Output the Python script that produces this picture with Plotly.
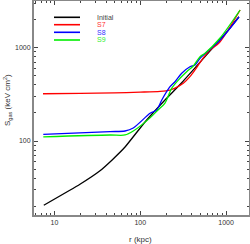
import plotly.graph_objects as go

# Data
r_init = [7.5, 19.8, 33.9, 47.6, 66.4, 113.5, 194, 300, 450, 700, 1000, 1413]
s_init = [20.5, 34.4, 48.0, 63.5, 86.2, 160, 275, 416, 631, 998, 1447, 2148]

r_s7 = [7.35, 20, 50, 100, 170, 222, 254, 317, 379, 434, 475, 520, 621, 851, 1456]
s_s7 = [321, 324, 328, 334, 341, 352, 368, 415, 489, 577, 653, 738, 906, 1159, 2536]

r_s8 = [7.4, 44.4, 66.4, 82.8, 130, 155, 178, 222, 254, 304, 379, 434, 497, 851, 1413]
s_s8 = [118, 126, 128, 138, 198, 215, 275, 382, 432, 532, 625, 653, 769, 1208, 2133]

r_s9 = [7.4, 44.4, 66.4, 82.8, 130, 161, 194, 232, 290, 347, 415, 497, 568, 851, 1456]
s_s9 = [111, 116, 116, 128, 177, 215, 255, 367, 470, 553, 637, 801, 871, 1270, 2536]

names = ["Initial", "S7", "S8", "S9"]
colors = ["#000000", "#ff0000", "#0000ff", "#00ee00"]
text_colors = ["#444444", "#ff3030", "#3030ff", "#30ee30"]

x_major = [10, 100, 1000]
y_major = [100, 1000]

series = [(r_init, s_init), (r_s7, s_s7), (r_s8, s_s8), (r_s9, s_s9)]
smooth = [0.4, 0.8, 0.8, 0.8]

fig = go.Figure()
for (rx, sy), nm, c, sm in zip(series, names, colors, smooth):
    fig.add_trace(go.Scatter(x=rx, y=sy, mode="lines", name=nm,
                             line=dict(color=c, width=1.3, shape="spline", smoothing=sm),
                             showlegend=False))

W, H = 250, 244
ml, mr, mt, mb = 34, 1, 1, 29
pw, ph = W - ml - mr, H - mt - mb

def px_to_paper_x(px):
    return (px - ml) / pw

def px_to_paper_y(py):
    return 1 - (py - mt) / ph

# manual legend (paper coords)
leg_y = [17.3, 24.7, 32.3, 40.0]
for nm, c, tc, yp in zip(names, colors, text_colors, leg_y):
    yy = px_to_paper_y(yp)
    fig.add_shape(type="line", xref="paper", yref="paper",
                  x0=px_to_paper_x(54), x1=px_to_paper_x(80), y0=yy, y1=yy,
                  line=dict(color=c, width=1.6))
    fig.add_annotation(xref="paper", yref="paper", x=px_to_paper_x(95), y=yy,
                       text=nm, showarrow=False, xanchor="left", yanchor="middle",
                       font=dict(size=7, color=tc, family="Liberation Sans"))

# axis titles
fig.add_annotation(xref="paper", yref="paper", x=px_to_paper_x(140), y=px_to_paper_y(239),
                   text="r (kpc)", showarrow=False, xanchor="center", yanchor="middle",
                   font=dict(size=8, color="#333333", family="Liberation Sans"))
fig.add_annotation(xref="paper", yref="paper", x=px_to_paper_x(7), y=px_to_paper_y(100),
                   text="S<sub>gas</sub> (keV cm<sup>2</sup>)", textangle=-90,
                   showarrow=False, xanchor="center", yanchor="middle",
                   font=dict(size=8, color="#333333", family="Liberation Sans"))

minor_x = [v * m for v in [1, 10, 100, 1000] for m in range(2, 10)]
minor_y = [v * m for v in [10, 100, 1000] for m in range(2, 10)]

axis_common = dict(type="log", showgrid=False, zeroline=False, showline=True,
                   linecolor="#888888", linewidth=2, mirror="ticks", automargin=False,
                   ticks="inside", ticklen=4, tickcolor="#444444", tickwidth=1,
                   tickfont=dict(size=7, color="#333333", family="Liberation Sans"))

fig.update_xaxes(**axis_common, range=[0.761, 3.267], tickvals=x_major,
                 ticktext=[str(v) for v in x_major],
                 minor=dict(tickvals=minor_x, ticks="inside", ticklen=2, tickcolor="#444444"))
fig.update_yaxes(**axis_common, range=[1.207, 3.5005], tickvals=y_major,
                 ticktext=[str(v) for v in y_major],
                 minor=dict(tickvals=minor_y, ticks="inside", ticklen=2, tickcolor="#444444"))

fig.update_layout(width=W, height=H, margin=dict(l=ml, r=mr, t=mt, b=mb),
                  plot_bgcolor="white", paper_bgcolor="white")
fig.write_html("out.html", config={"displayModeBar": False},
               post_script="document.body.style.margin='0';document.body.style.overflow='hidden';")
